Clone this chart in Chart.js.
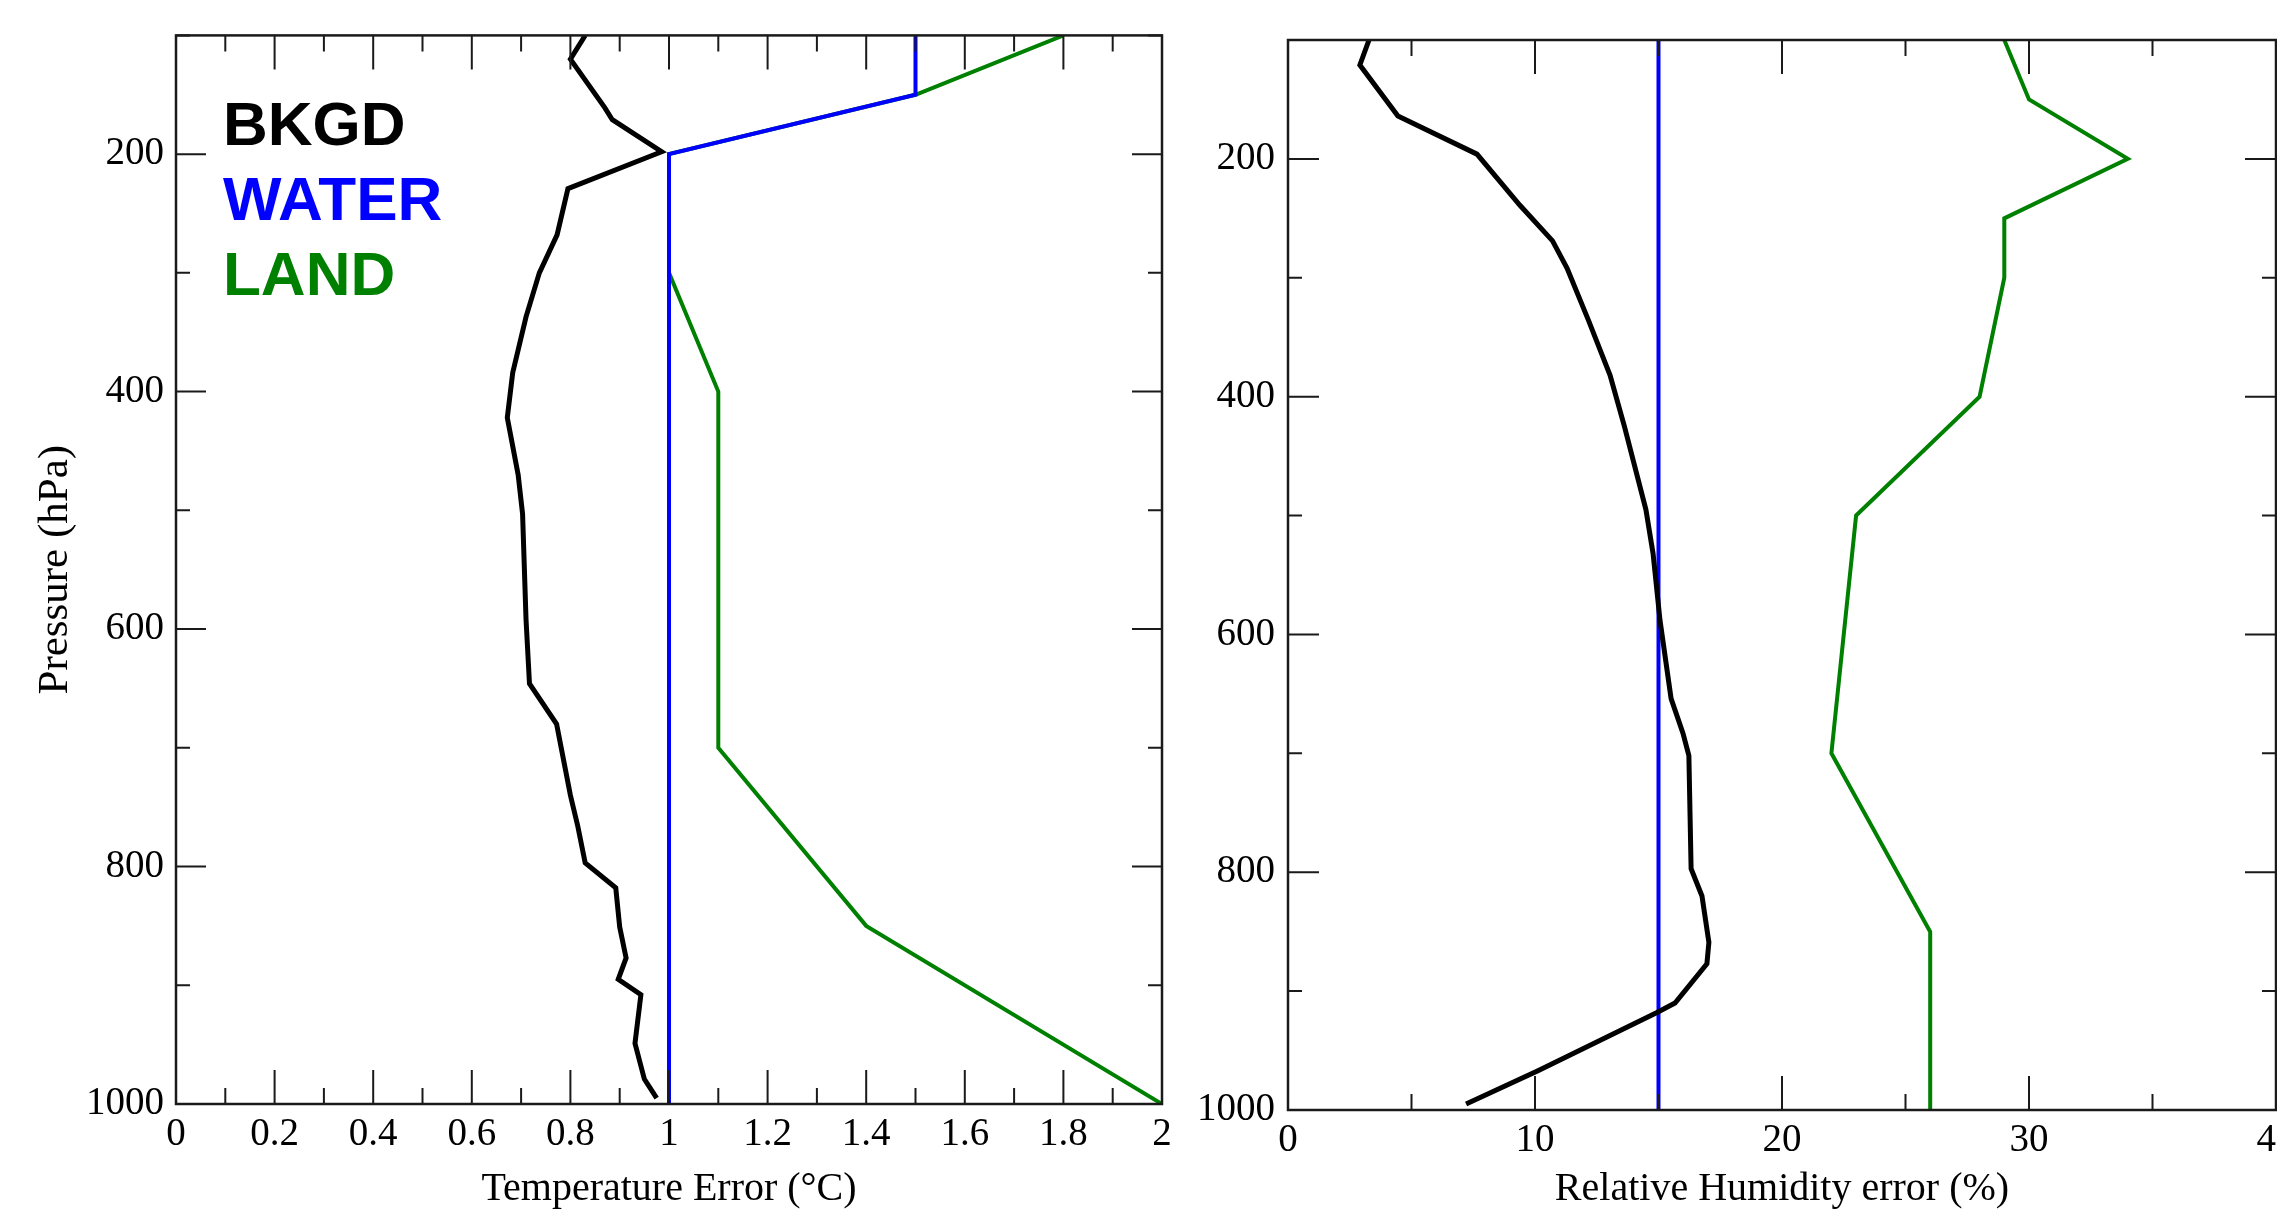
<!DOCTYPE html>
<html>
<head>
<meta charset="utf-8">
<script src="https://cdn.jsdelivr.net/npm/chart.js@4.4.1/dist/chart.umd.min.js"></script>
<style>
    html, body { margin: 0; padding: 0; background: #fff; overflow: hidden; }
    body { width: 2277px; height: 1210px; position: relative; }
    canvas { position: absolute; top: 0; }
    #temp { left: 0; }
    #rh { left: 1170px; }
</style>
</head>
<body>
<canvas id="temp" width="1230" height="1210"></canvas>
<canvas id="rh" width="1150" height="1210"></canvas>
<script>
// axis ticks
const pressureTicks = [100, 200, 300, 400, 500, 600, 700, 800, 900, 1000]
const pressureLabels = [200, 400, 600, 800, 1000]
const tempTicks = [0, 0.1, 0.2, 0.3, 0.4, 0.5, 0.6, 0.7, 0.8, 0.9, 1, 1.1, 1.2, 1.3, 1.4, 1.5, 1.6, 1.7, 1.8, 1.9, 2]
const tempLabels = [0, 0.2, 0.4, 0.6, 0.8, 1, 1.2, 1.4, 1.6, 1.8, 2]
const rhTicks = [0, 5, 10, 15, 20, 25, 30, 35, 40]
const rhLabels = [0, 10, 20, 30, 40]

// temperature error profiles (pressure in hPa, error in degC)
const tempBkgdP = [100, 120, 161, 171, 198, 229, 268, 300, 337, 384, 422, 470, 503, 592, 646, 680, 740, 766, 797, 818, 851, 877, 895, 908, 949, 979, 995]
const tempBkgdErr = [0.83, 0.80, 0.87, 0.885, 0.985, 0.795, 0.773, 0.737, 0.71, 0.683, 0.672, 0.694, 0.703, 0.71, 0.717, 0.772, 0.80, 0.815, 0.83, 0.892, 0.90, 0.913, 0.897, 0.943, 0.931, 0.95, 0.975]
const tempWaterP = [100, 150, 200, 1000]
const tempWaterErr = [1.5, 1.5, 1, 1]
const tempLandP = [100, 150, 200, 300, 400, 700, 850, 1000]
const tempLandErr = [1.8, 1.5, 1, 1, 1.1, 1.1, 1.4, 2]

// relative humidity error profiles (pressure in hPa, error in %)
const rhBkgdP = [100, 121, 164, 196, 239, 269, 292, 336, 382, 425, 495, 532, 588, 654, 683, 702, 797, 820, 859, 877, 910, 918, 967, 995]
const rhBkgdErr = [3.28, 2.91, 4.45, 7.65, 9.39, 10.71, 11.30, 12.17, 13.04, 13.62, 14.49, 14.78, 15.06, 15.51, 15.99, 16.23, 16.32, 16.76, 17.04, 16.96, 15.67, 14.94, 10.12, 7.21]
const rhWaterP = [100, 1000]
const rhWaterErr = [15, 15]
const rhLandP = [100, 150, 200, 250, 300, 400, 500, 700, 850, 1000]
const rhLandErr = [29, 30, 34, 29, 29, 28, 23, 22, 26, 26]

const legendLabels = ['BKGD', 'WATER', 'LAND']
const seriesColors = ['#000000', '#0000ff', '#008000']

const serif = '"Liberation Serif", "Times New Roman", serif'
const axisColor = '#1a1a1a'

function points(ps, vs) {
    return ps.map((p, i) => ({ x: vs[i], y: p }))
}

function lineSet(label, color, ps, vs, width) {
    return {
        label,
        data: points(ps, vs),
        showLine: true,
        borderColor: color,
        backgroundColor: color,
        borderWidth: width,
        pointRadius: 0,
        tension: 0,
        fill: false,
    }
}

function frameTicks(xTicks, xMajors, yTicks, yMajors, xLen, yLen) {
    return {
        id: 'frameTicks',
        afterDraw(chart) {
            const { ctx, chartArea: a, scales: { x, y } } = chart
            ctx.save()
            ctx.strokeStyle = axisColor
            ctx.lineWidth = 2
            ctx.beginPath()
            xTicks.forEach(v => {
                const px = x.getPixelForValue(v)
                const len = xMajors.includes(v) ? xLen[0] : xLen[1]
                ctx.moveTo(px, a.bottom); ctx.lineTo(px, a.bottom - len)
                ctx.moveTo(px, a.top); ctx.lineTo(px, a.top + len)
            })
            yTicks.forEach(v => {
                const py = y.getPixelForValue(v)
                const len = yMajors.includes(v) ? yLen[0] : yLen[1]
                ctx.moveTo(a.left, py); ctx.lineTo(a.left + len, py)
                ctx.moveTo(a.right, py); ctx.lineTo(a.right - len, py)
            })
            ctx.stroke()
            ctx.lineWidth = 2.5
            ctx.strokeRect(a.left, a.top, a.right - a.left, a.bottom - a.top)
            ctx.restore()
        }
    }
}

const legendText = {
    id: 'legendText',
    afterDraw(chart) {
        const ctx = chart.ctx
        ctx.save()
        ctx.font = 'bold 62px "Liberation Sans", Arial, sans-serif'
        ctx.textBaseline = 'alphabetic'
        ctx.textAlign = 'left'
        legendLabels.forEach((txt, i) => {
            ctx.fillStyle = seriesColors[i]
            ctx.fillText(txt, 223, 145 + i * 75)
        })
        ctx.restore()
    }
}

function axis(opts) {
    return {
        type: 'linear',
        min: opts.min,
        max: opts.max,
        reverse: !!opts.reverse,
        afterBuildTicks: s => { s.ticks = opts.ticks.map(v => ({ value: v })) },
        afterFit: opts.afterFit,
        ticks: {
            autoSkip: false,
            maxRotation: 0,
            minRotation: 0,
            padding: opts.padding,
            color: '#000',
            font: { family: serif, size: 39, lineHeight: 1.2 },
            callback: v => opts.labels.includes(v) ? String(v) : '',
        },
        grid: { display: false, drawTicks: false },
        border: { display: false },
        title: opts.title ? {
            display: true,
            text: opts.title,
            color: '#000',
            font: { family: serif, size: opts.titleSize || 40, lineHeight: 1 },
            padding: opts.titlePadding,
        } : { display: false },
    }
}

function makeChart(id, cfg) {
    return new Chart(document.getElementById(id), {
        type: 'scatter',
        data: { datasets: cfg.datasets },
        options: {
            responsive: false,
            animation: false,
            devicePixelRatio: 1,
            layout: { padding: cfg.padding },
            plugins: { legend: { display: false }, tooltip: { enabled: false } },
            scales: { x: cfg.x, y: cfg.y },
        },
        plugins: cfg.plugins,
    })
}

// water drawn last so it sits on top of land where they share a segment
makeChart('temp', {
    datasets: [
        lineSet('WATER', seriesColors[1], tempWaterP, tempWaterErr, 4),
        lineSet('LAND', seriesColors[2], tempLandP, tempLandErr, 4),
        lineSet('BKGD', seriesColors[0], tempBkgdP, tempBkgdErr, 5),
    ],
    padding: { left: 0, right: 68, top: 35, bottom: 0 },
    x: axis({
        min: 0, max: 2, ticks: tempTicks, labels: tempLabels, padding: 7,
        title: 'Temperature Error (°C)', titlePadding: { top: 0, bottom: 1 },
        afterFit: s => { s.height = 106 },
    }),
    y: axis({
        min: 100, max: 1000, reverse: true, ticks: pressureTicks, labels: pressureLabels, padding: 12,
        title: 'Pressure (hPa)', titleSize: 43, titlePadding: { top: 34, bottom: 0 },
        afterFit: s => { s.width = 176 },
    }),
    plugins: [frameTicks(tempTicks, tempLabels, pressureTicks, pressureLabels, [34, 16], [30, 14]), legendText],
})

makeChart('rh', {
    datasets: [
        lineSet('BKGD', seriesColors[0], rhBkgdP, rhBkgdErr, 5),
        lineSet('WATER', seriesColors[1], rhWaterP, rhWaterErr, 4),
        lineSet('LAND', seriesColors[2], rhLandP, rhLandErr, 4),
    ],
    padding: { left: 0, right: 44, top: 40, bottom: 0 },
    x: axis({
        min: 0, max: 40, ticks: rhTicks, labels: rhLabels, padding: 7,
        title: 'Relative Humidity error (%)', titlePadding: { top: 0, bottom: 1 },
        afterFit: s => { s.height = 100 },
    }),
    y: axis({
        min: 100, max: 1000, reverse: true, ticks: pressureTicks, labels: pressureLabels, padding: 13,
        afterFit: s => { s.width = 118 },
    }),
    plugins: [frameTicks(rhTicks, rhLabels, pressureTicks, pressureLabels, [34, 16], [31, 14])],
})
</script>
</body>
</html>
